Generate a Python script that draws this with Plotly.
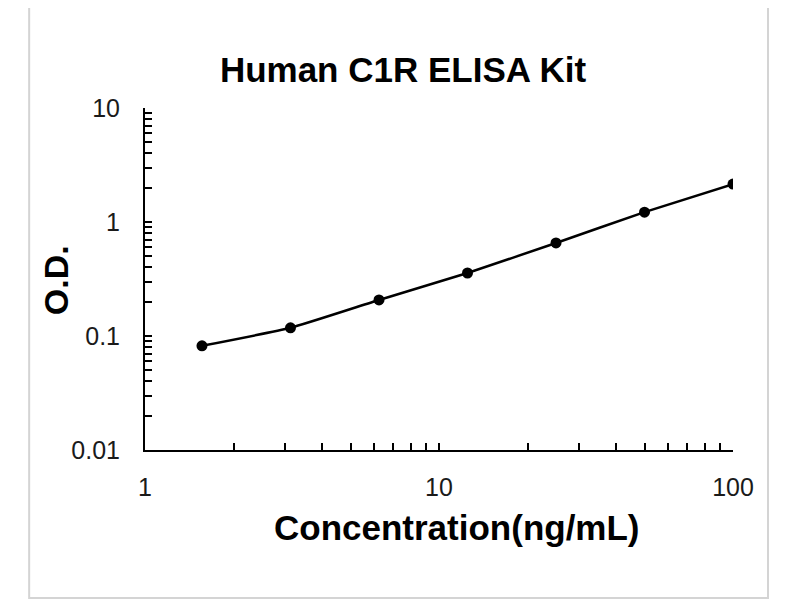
import plotly.graph_objects as go

# standard curve data
concentration = [1.5625, 3.125, 6.25, 12.5, 25, 50, 100]
od_values = [0.082, 0.118, 0.207, 0.357, 0.655, 1.22, 2.15]

x_major = [1, 10, 100]
x_minor = [2, 3, 4, 5, 6, 7, 8, 9, 20, 30, 40, 50, 60, 70, 80, 90]
y_major = [0.01, 0.1, 1, 10]
y_labels = ["0.01", "0.1", "1", "10"]
y_minor = [0.02, 0.03, 0.04, 0.05, 0.06, 0.07, 0.08, 0.09,
           0.2, 0.3, 0.4, 0.5, 0.6, 0.7, 0.8, 0.9,
           2, 3, 4, 5, 6, 7, 8, 9]

title_text = "Human C1R ELISA Kit"
x_title = "Concentration(ng/mL)"
y_title = "O.D."

bold_font = "Liberation Sans, Arial, sans-serif"
tick_font = dict(family="Liberation Sans, Arial, sans-serif", size=25, color="#1a1a1a")

# the page body adds an 8px offset, so the figure is drawn 8px smaller
W, H = 792, 592

fig = go.Figure()

fig.add_trace(
    go.Scatter(
        x=concentration,
        y=od_values,
        mode="lines+markers",
        line=dict(color="black", width=2.5, shape="spline", smoothing=0.45),
        marker=dict(color="black", size=11),
        showlegend=False,
        hoverinfo="x+y",
    )
)

fig.update_xaxes(
    type="log",
    range=[0, 2],
    showgrid=False,
    zeroline=False,
    showline=True,
    linecolor="black",
    linewidth=2,
    ticks="inside",
    ticklen=7,
    tickwidth=1.5,
    tickcolor="black",
    tickvals=x_major,
    ticktext=["1", "10", "100"],
    tickfont=tick_font,
    ticklabelstandoff=14,
    minor=dict(tickvals=x_minor, ticks="inside", ticklen=7, tickwidth=1.5, tickcolor="black"),
)

fig.update_yaxes(
    type="log",
    range=[-2, 1],
    showgrid=False,
    zeroline=False,
    showline=True,
    linecolor="black",
    linewidth=2,
    ticks="inside",
    ticklen=7,
    tickwidth=1.5,
    tickcolor="black",
    tickvals=y_major,
    ticktext=y_labels,
    tickfont=tick_font,
    ticklabelstandoff=18,
    minor=dict(tickvals=y_minor, ticks="inside", ticklen=7, tickwidth=1.5, tickcolor="black"),
)

fig.update_layout(
    width=W,
    height=H,
    margin=dict(l=137, r=67, t=100, b=150),
    paper_bgcolor="white",
    plot_bgcolor="white",
    title=dict(
        text=f"<b>{title_text}</b>",
        x=395 / W,
        xanchor="center",
        y=1 - 62 / H,
        yanchor="middle",
        font=dict(family=bold_font, size=35, color="black"),
    ),
    annotations=[
        dict(
            text=f"<b>{x_title}</b>",
            x=0.531, y=-0.228, xref="paper", yref="paper",
            xanchor="center", yanchor="middle", showarrow=False,
            font=dict(family=bold_font, size=35, color="black"),
        ),
        dict(
            text=f"<b>{y_title}</b>",
            x=-0.151, y=0.497, xref="paper", yref="paper",
            xanchor="center", yanchor="middle", showarrow=False, textangle=-90,
            font=dict(family=bold_font, size=34, color="black"),
        ),
    ],
    shapes=[
        dict(
            type="rect", xref="paper", yref="paper",
            x0=-0.197, x1=1.0595, y0=-0.433, y1=1.313,
            line=dict(color="#d4d4d4", width=2),
        )
    ],
)

fig.write_html("out.html")
